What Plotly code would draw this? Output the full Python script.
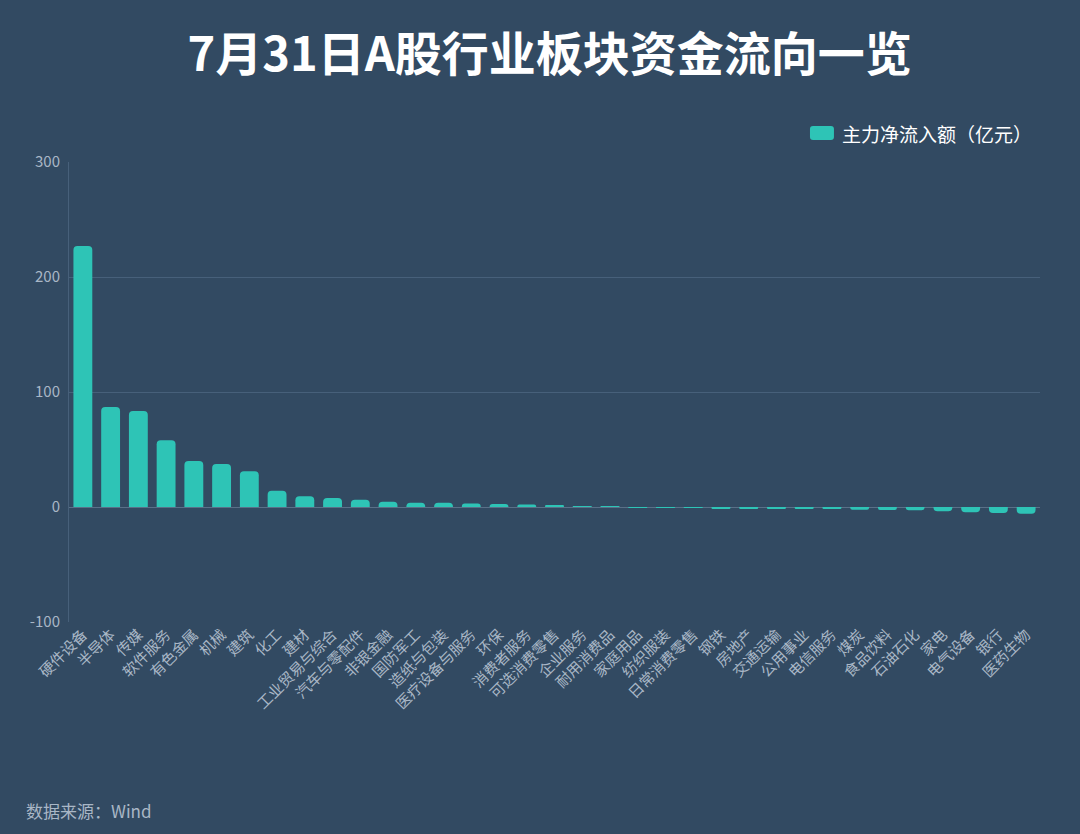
import plotly.graph_objects as go

# sector names and net main-force inflow (100M CNY)
sectors = ["硬件设备", "半导体", "传媒", "软件服务", "有色金属", "机械", "建筑", "化工", "建材",
           "工业贸易与综合", "汽车与零配件", "非银金融", "国防军工", "造纸与包装", "医疗设备与服务",
           "环保", "消费者服务", "可选消费零售", "企业服务", "耐用消费品", "家庭用品", "纺织服装",
           "日常消费零售", "钢铁", "房地产", "交通运输", "公用事业", "电信服务", "煤炭", "食品饮料",
           "石油石化", "家电", "电气设备", "银行", "医药生物"]
net_inflow = [227, 87, 83.5, 58, 40, 37.4, 31, 14.2, 9.3,
              7.8, 6.4, 4.6, 3.7, 3.6, 3.0,
              2.7, 2.1, 1.2, 0.2, 0.05, -0.05, -0.3,
              -0.6, -1.0, -1.4, -1.4, -1.7, -1.7, -2.3, -2.6,
              -2.8, -3.7, -4.6, -5.3, -5.8]
y_ticks = [-100, 0, 100, 200, 300]
y_tick_text = ["-100", "0", "100", "200", "300"]
series_name = "主力净流入额（亿元）"

bg = "#324a62"
bar_color = "#2ec4b6"
tick_color = "#a9b7c6"
grid_color = "#47607a"
font = "Noto Sans CJK SC"

fig = go.Figure()
fig.add_trace(go.Bar(
    x=sectors, y=net_inflow,
    name=series_name, showlegend=False,
    marker=dict(color=bar_color, cornerradius=4, line=dict(width=0)),
))

# legend drawn by hand: wide rounded swatch + label, top right
sx0, sx1, sy0, sy1, rx, ry = 0.7631, 0.7878, 1.0478, 1.0783, 0.0031, 0.0065
swatch = (f"M {sx0+rx},{sy0} L {sx1-rx},{sy0} Q {sx1},{sy0} {sx1},{sy0+ry} "
          f"L {sx1},{sy1-ry} Q {sx1},{sy1} {sx1-rx},{sy1} L {sx0+rx},{sy1} "
          f"Q {sx0},{sy1} {sx0},{sy1-ry} L {sx0},{sy0+ry} Q {sx0},{sy0} {sx0+rx},{sy0} Z")

fig.update_layout(
    width=1080, height=834,
    paper_bgcolor=bg, plot_bgcolor=bg,
    font=dict(family=font, color=tick_color),
    margin=dict(l=69, r=40, t=162, b=212),
    bargap=0.32,
    title=dict(text="<b>7月31日A股行业板块资金流向一览</b>", x=0.509, xanchor="center",
               y=0.934, yanchor="middle", font=dict(size=47, color="white", family=font)),
    shapes=[dict(type="path", path=swatch, xref="paper", yref="paper",
                 fillcolor=bar_color, line=dict(width=0))],
    annotations=[
        dict(text=series_name, xref="paper", yref="paper", x=0.794, y=1.063,
             xanchor="left", yanchor="middle", showarrow=False,
             font=dict(size=19, color="white", family=font)),
        dict(text="数据来源：Wind", xref="paper", yref="paper", x=-0.0463, y=-0.409,
             xanchor="left", yanchor="middle", showarrow=False,
             font=dict(size=17, color=tick_color, family=font)),
    ],
)

fig.update_xaxes(tickangle=-45, tickfont=dict(size=15, color=tick_color), showgrid=False,
                 showline=False, ticks="", zeroline=False)
fig.update_yaxes(range=[-100, 300], tickvals=y_ticks, ticktext=y_tick_text,
                 tickfont=dict(size=15, color=tick_color),
                 showgrid=True, gridcolor=grid_color, gridwidth=1, zeroline=True,
                 zerolinecolor="#5a7088", zerolinewidth=1, showline=True, linecolor=grid_color,
                 linewidth=1, ticks="", ticklabelstandoff=5)

fig.write_html("out.html", config={"displayModeBar": False},
               post_script="document.body.style.margin='0';document.body.style.background='" + bg + "';")
